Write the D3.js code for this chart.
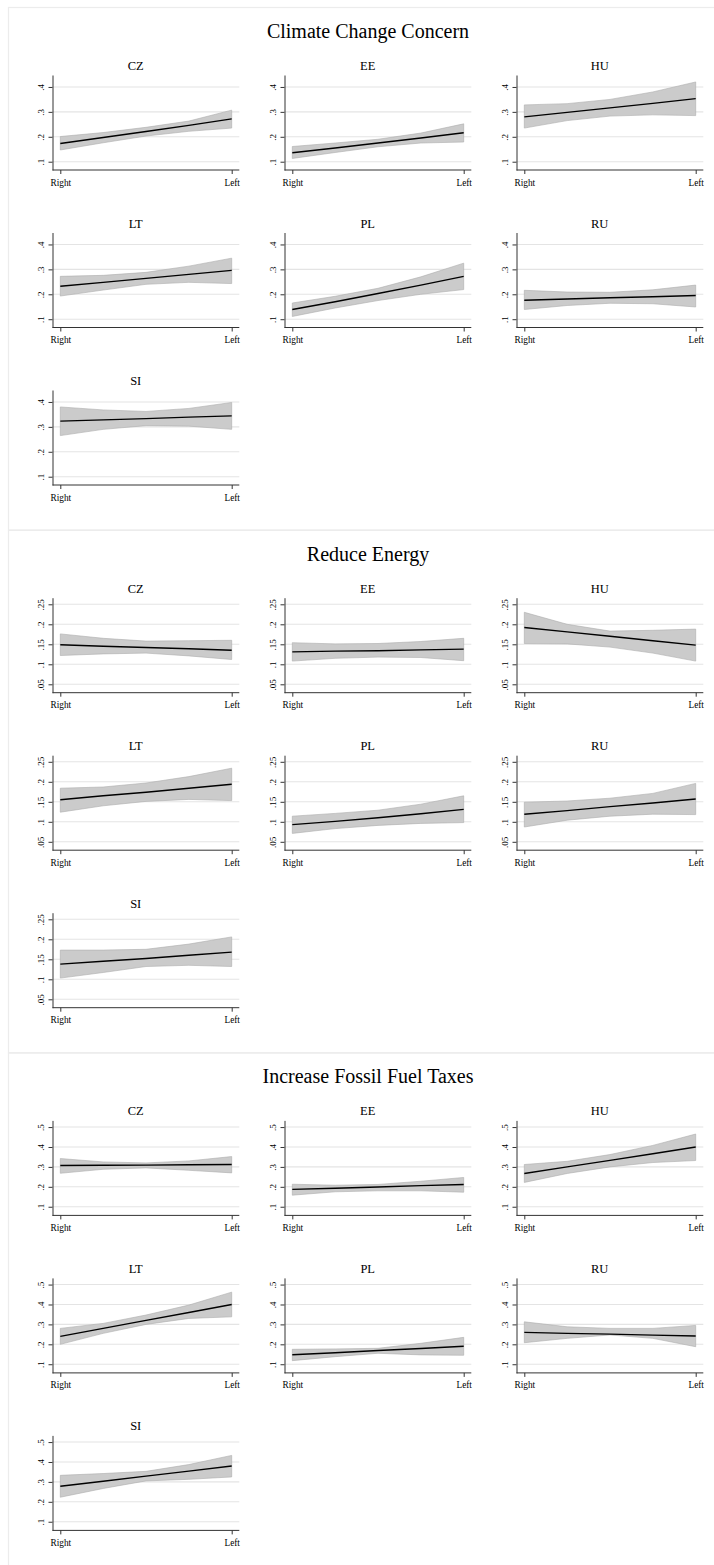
<!DOCTYPE html>
<html lang="en">
<head>
<meta charset="utf-8">
<title>Predicted probabilities by ideology</title>
<script src="https://d3js.org/d3.v7.min.js"></script>
<style>
  body { margin: 0; background: #fff; }
  svg text { font-family: "Liberation Serif", "Times New Roman", serif; fill: #000; }
</style>
</head>
<body>
<div id="chart"></div>
<script>
// ---- data ----
var sectionTitles = ["Climate Change Concern", "Reduce Energy", "Increase Fossil Fuel Taxes"];
var countries = ["CZ", "EE", "HU", "LT", "PL", "RU", "SI"];
var xPoints = [0, 0.25, 0.5, 0.75, 1];
var xTickValues = [0, 1];
var xTickLabels = ["Right", "Left"];

var climateTicks = [0.1, 0.2, 0.3, 0.4];
var climateTickLabels = [".1", ".2", ".3", ".4"];
var energyTicks = [0.05, 0.1, 0.15, 0.2, 0.25];
var energyTickLabels = [".05", ".1", ".15", ".2", ".25"];
var taxTicks = [0.1, 0.2, 0.3, 0.4, 0.5];
var taxTickLabels = [".1", ".2", ".3", ".4", ".5"];

// predicted value and 95% CI, one row per country (CZ, EE, HU, LT, PL, RU, SI)
var climateMean = [
  [.173, .197, .221, .246, .272],
  [.136, .155, .175, .195, .216],
  [.280, .298, .316, .334, .353],
  [.232, .248, .264, .280, .296],
  [.139, .170, .203, .237, .272],
  [.176, .181, .186, .190, .195],
  [.323, .328, .333, .339, .344]
];
var climateLo = [
  [.147, .176, .203, .222, .235],
  [.113, .137, .160, .175, .179],
  [.235, .265, .283, .288, .285],
  [.193, .217, .240, .248, .243],
  [.111, .145, .175, .200, .219],
  [.139, .155, .164, .162, .149],
  [.265, .290, .305, .303, .290]
];
var climateHi = [
  [.201, .217, .238, .263, .307],
  [.161, .175, .190, .215, .252],
  [.328, .333, .350, .380, .420],
  [.272, .276, .288, .313, .345],
  [.165, .192, .224, .270, .325],
  [.216, .209, .208, .218, .237],
  [.380, .368, .362, .374, .398]
];

var energyMean = [
  [.149, .145, .142, .139, .135],
  [.131, .133, .134, .136, .138],
  [.192, .181, .170, .159, .148],
  [.155, .165, .174, .184, .194],
  [.093, .101, .110, .120, .131],
  [.119, .128, .138, .147, .157],
  [.138, .145, .152, .160, .168]
];
var energyLo = [
  [.122, .126, .128, .121, .112],
  [.108, .115, .118, .117, .109],
  [.152, .151, .143, .128, .108],
  [.124, .140, .151, .156, .153],
  [.071, .083, .091, .096, .098],
  [.087, .104, .114, .119, .118],
  [.103, .117, .132, .135, .132]
];
var energyHi = [
  [.176, .165, .158, .159, .160],
  [.154, .151, .152, .157, .165],
  [.230, .200, .183, .185, .188],
  [.184, .187, .197, .213, .234],
  [.114, .121, .129, .144, .165],
  [.149, .152, .159, .171, .196],
  [.173, .173, .175, .188, .206]
];

var taxMean = [
  [.307, .308, .309, .311, .312],
  [.187, .193, .199, .206, .212],
  [.267, .300, .333, .366, .400],
  [.240, .280, .320, .360, .400],
  [.148, .158, .169, .179, .190],
  [.260, .255, .251, .246, .242],
  [.278, .303, .329, .354, .380]
];
var taxLo = [
  [.268, .288, .295, .283, .270],
  [.158, .175, .180, .180, .173],
  [.222, .267, .300, .322, .332],
  [.200, .255, .300, .330, .338],
  [.118, .138, .155, .147, .145],
  [.208, .230, .247, .230, .188],
  [.223, .267, .305, .313, .325]
];
var taxHi = [
  [.342, .325, .320, .330, .352],
  [.213, .208, .212, .228, .247],
  [.312, .328, .362, .408, .465],
  [.280, .305, .347, .397, .462],
  [.175, .177, .180, .205, .235],
  [.313, .288, .280, .280, .295],
  [.333, .342, .353, .387, .433]
];

// ---- layout ----
var width = 714, height = 1565;
var sectionStep = 522.7;      // vertical distance between the three graphs
var rowStep = 157.5;          // distance between panel rows
var colStep = 232;            // distance between panel columns
var axisLeftX = 52.5;         // y axis of first column
var plotW = 186.8;            // y axis -> right end of plot region
var plotTop = 75, plotBottom = 170;

var sections = [
  { title: sectionTitles[0], ticks: climateTicks, labels: climateTickLabels,
    domain: [0.0667, 0.448], mean: climateMean, lo: climateLo, hi: climateHi },
  { title: sectionTitles[1], ticks: energyTicks, labels: energyTickLabels,
    domain: [0.029, 0.2665], mean: energyMean, lo: energyLo, hi: energyHi },
  { title: sectionTitles[2], ticks: taxTicks, labels: taxTickLabels,
    domain: [0.0565, 0.5335], mean: taxMean, lo: taxLo, hi: taxHi }
];

var svg = d3.select("#chart").append("svg")
  .attr("width", width)
  .attr("height", height)
  .style("display", "block");

svg.append("rect").attr("width", width).attr("height", height).attr("fill", "#fff");

sections.forEach(function(sec, s) {
  var sy = s * sectionStep;
  var g = svg.append("g").attr("transform", "translate(0," + sy + ")");

  // light frame around each graph
  g.append("rect")
    .attr("x", 8.5).attr("y", 7.5)
    .attr("width", 760).attr("height", sectionStep)
    .attr("fill", "none")
    .attr("stroke", "#ececec")
    .attr("stroke-width", 1.2);

  g.append("text")
    .attr("x", 368)
    .attr("y", 38)
    .attr("text-anchor", "middle")
    .style("font-size", "20px")
    .text(sec.title);

  countries.forEach(function(country, i) {
    var col = i % 3, row = Math.floor(i / 3);
    var px = axisLeftX + col * colStep;
    var py = row * rowStep;
    var p = g.append("g").attr("transform", "translate(" + px + "," + py + ")");

    var x = d3.scaleLinear().domain([0, 1]).range([7.8, 179.2]);
    var y = d3.scaleLinear().domain(sec.domain).range([plotBottom, plotTop]);

    // gridlines
    p.selectAll(".grid")
      .data(sec.ticks)
      .enter().append("line")
      .attr("x1", 0).attr("x2", plotW)
      .attr("y1", function(d) { return y(d); })
      .attr("y2", function(d) { return y(d); })
      .attr("stroke", "#e4e4e4")
      .attr("stroke-width", 1.1);

    var pts = xPoints.map(function(xv, k) {
      return { x: xv, m: sec.mean[i][k], lo: sec.lo[i][k], hi: sec.hi[i][k] };
    });

    // confidence band
    var area = d3.area()
      .x(function(d) { return x(d.x); })
      .y0(function(d) { return y(d.lo); })
      .y1(function(d) { return y(d.hi); });
    p.append("path")
      .datum(pts)
      .attr("d", area)
      .attr("fill", "#cbcbcb")
      .attr("stroke", "#adadad")
      .attr("stroke-width", 0.6);

    // predicted line
    var line = d3.line()
      .x(function(d) { return x(d.x); })
      .y(function(d) { return y(d.m); });
    p.append("path")
      .datum(pts)
      .attr("d", line)
      .attr("fill", "none")
      .attr("stroke", "#000")
      .attr("stroke-width", 1.4);

    // y axis with rotated labels
    var yAxis = d3.axisLeft(y)
      .tickValues(sec.ticks)
      .tickSize(4)
      .tickSizeOuter(0)
      .tickFormat(function(d, k) { return sec.labels[k]; });
    var ya = p.append("g").call(yAxis);
    ya.selectAll("text")
      .attr("x", 0).attr("y", -9).attr("dy", null)
      .attr("transform", "rotate(-90)")
      .attr("text-anchor", "middle")
      .style("font-size", "9px")
      .style("font-family", "'Liberation Serif', serif");
    ya.selectAll("line, path").attr("stroke", "#333");

    // x axis
    var xAxis = d3.axisBottom(x)
      .tickValues(xTickValues)
      .tickSize(4)
      .tickPadding(5)
      .tickFormat(function(d, k) { return xTickLabels[k]; });
    var xa = p.append("g").attr("transform", "translate(0," + plotBottom + ")").call(xAxis);
    xa.select(".domain").remove();
    xa.selectAll("line").attr("stroke", "#333");
    xa.selectAll("text")
      .style("font-size", "9.3px")
      .style("font-family", "'Liberation Serif', serif");
    xa.append("line")
      .attr("x1", 0).attr("x2", plotW)
      .attr("stroke", "#333");

    // panel title
    p.append("text")
      .attr("x", 83.2)
      .attr("y", 70)
      .attr("text-anchor", "middle")
      .style("font-size", "12.5px")
      .style("font-weight", "normal")
      .text(country);
  });
});
</script>
</body>
</html>
